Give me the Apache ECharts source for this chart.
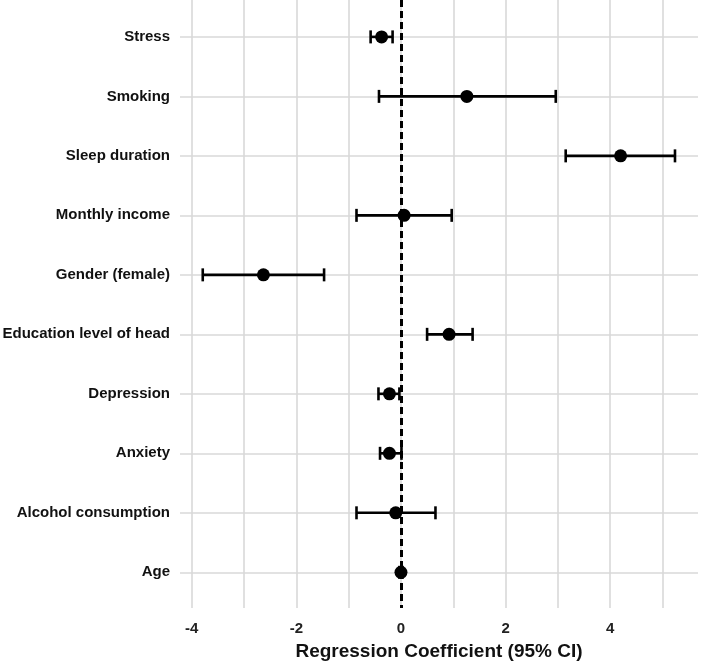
<!DOCTYPE html>
<html>
<head>
<meta charset="utf-8">
<script src="https://cdn.jsdelivr.net/npm/echarts@6/dist/echarts.min.js"></script>
<style>
  html, body { margin: 0; padding: 0; background: #fff; }
  #chart { width: 701px; height: 663px; }
</style>
</head>
<body>
<div id="chart"></div>
<script>
// predictors, top to bottom
const categories = [
  "Stress", "Smoking", "Sleep duration", "Monthly income", "Gender (female)",
  "Education level of head", "Depression", "Anxiety", "Alcohol consumption", "Age"
];
const estimates = [-0.37, 1.26, 4.20, 0.06, -2.63, 0.92, -0.22, -0.22, -0.10, 0.00];
const lowerCI = [-0.58, -0.42, 3.15, -0.85, -3.79, 0.50, -0.43, -0.40, -0.85, -0.03];
const upperCI = [-0.16, 2.96, 5.24, 0.97, -1.47, 1.37, -0.03, 0.01, 0.66, 0.03];
const xTicks = [-4, -3, -2, -1, 0, 1, 2, 3, 4, 5];
const xLabels = [-4, -2, 0, 2, 4];

const rowIdx = categories.map((c, i) => i);
const pointData = estimates.map((v, i) => [v, i]);
const ciData = lowerCI.map((lo, i) => [lo, upperCI[i], i]);

const gridColor = "#d9d9d9";
const textColor = "#111";
const font = "Liberation Sans";

const chart = echarts.init(document.getElementById("chart"));
chart.setOption({
  animation: false,
  backgroundColor: "#fff",
  grid: { left: 180, right: 3, top: 0, bottom: 55, outerBoundsMode: "none", containLabel: false },
  xAxis: {
    type: "value",
    min: -4.225,
    max: 5.68,
    name: "Regression Coefficient (95% CI)",
    nameLocation: "middle",
    nameGap: 34,
    nameMoveOverlap: false,
    nameTextStyle: { color: textColor, fontSize: 19, fontWeight: "bold", fontFamily: font, verticalAlign: "top" },
    axisLine: { show: false },
    axisTick: { show: false, customValues: xTicks },
    axisLabel: {
      customValues: xLabels,
      color: "#222",
      fontSize: 15,
      fontWeight: "bold",
      fontFamily: font,
      margin: 13
    },
    splitLine: { show: true, lineStyle: { color: gridColor, width: 1.6 } }
  },
  yAxis: {
    type: "value",
    inverse: true,
    min: -0.62,
    max: 9.6,
    axisLine: { show: false },
    axisTick: { show: false, customValues: rowIdx },
    axisLabel: {
      customValues: rowIdx,
      formatter: v => categories[v],
      color: textColor,
      fontSize: 15,
      fontWeight: "bold",
      fontFamily: font,
      margin: 10,
      padding: [3, 0, 0, 0]
    },
    splitLine: { show: true, lineStyle: { color: gridColor, width: 1.6 } }
  },
  series: [
    {
      type: "custom",
      data: ciData,
      z: 3,
      renderItem: function (params, api) {
        const y = api.value(2);
        const a = api.coord([api.value(0), y]);
        const b = api.coord([api.value(1), y]);
        const h = 6.5;
        const style = { stroke: "#000", lineWidth: 2.6 };
        return {
          type: "group",
          children: [
            { type: "line", shape: { x1: a[0], y1: a[1], x2: b[0], y2: b[1] }, style: style },
            { type: "line", shape: { x1: a[0], y1: a[1] - h, x2: a[0], y2: a[1] + h }, style: style },
            { type: "line", shape: { x1: b[0], y1: b[1] - h, x2: b[0], y2: b[1] + h }, style: style }
          ]
        };
      }
    },
    {
      type: "scatter",
      data: pointData,
      symbol: "circle",
      symbolSize: 13,
      z: 4,
      itemStyle: { color: "#000", opacity: 1 },
      markLine: {
        silent: true,
        symbol: "none",
        label: { show: false },
        lineStyle: { color: "#000", width: 3, type: [7, 4] },
        data: [{ xAxis: 0 }]
      }
    }
  ]
});
</script>
</body>
</html>
